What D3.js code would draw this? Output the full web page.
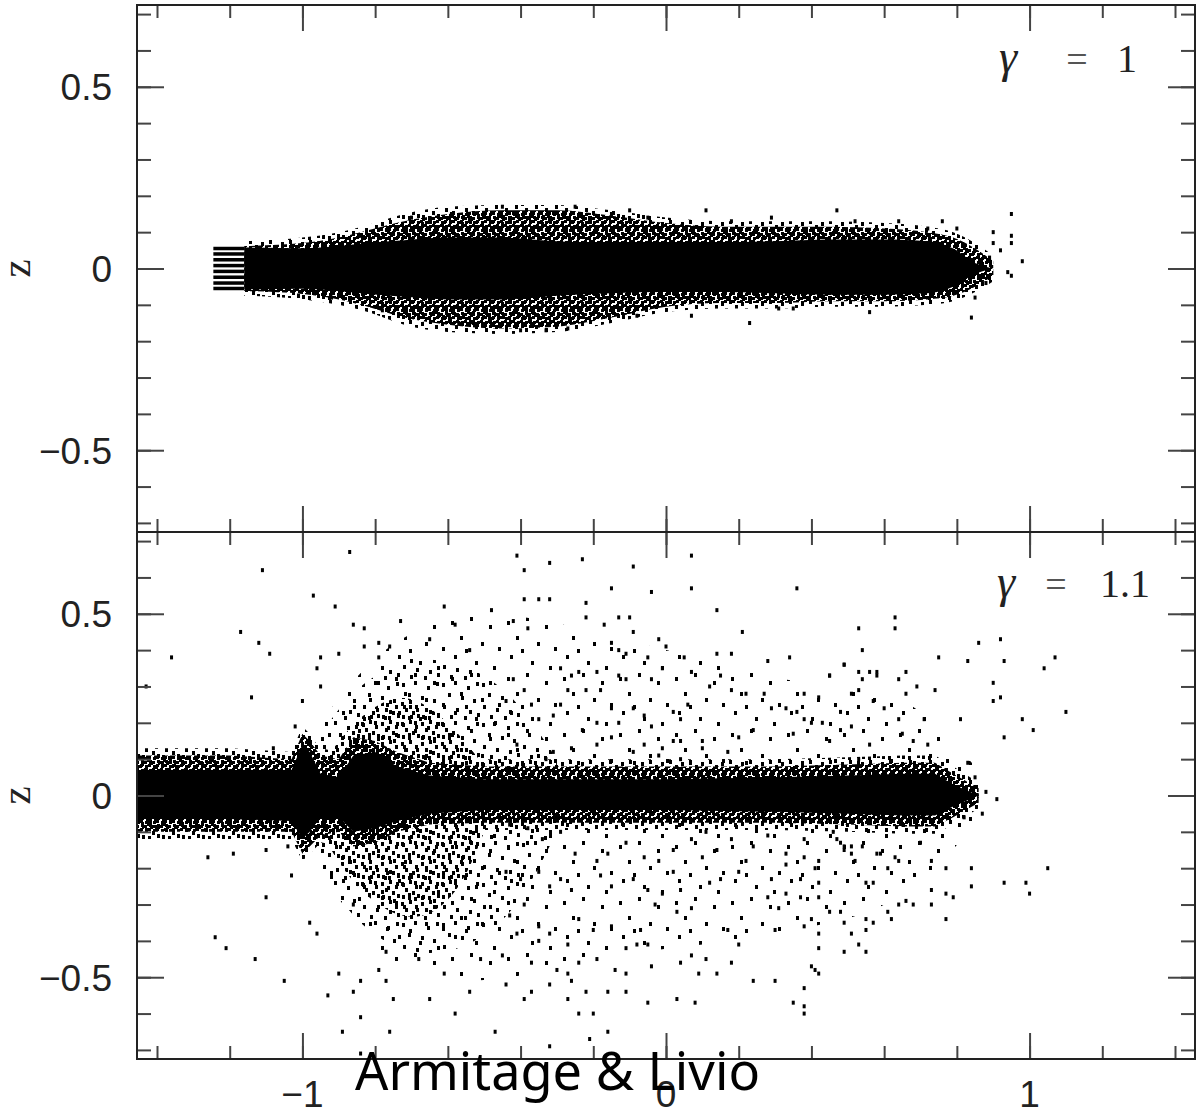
<!DOCTYPE html>
<html>
<head>
<meta charset="utf-8">
<script src="https://cdn.jsdelivr.net/npm/d3@7/dist/d3.min.js"></script>
<style>
  body { margin: 0; background: #fff; }
  .tick line { stroke: #444; stroke-width: 2; }
</style>
</head>
<body>
<svg id="chart" width="1197" height="1112"></svg>
<script>
// tick values
var xMinorTicks = [-1.4, -1.2, -1.0, -0.8, -0.6, -0.4, -0.2, 0, 0.2, 0.4, 0.6, 0.8, 1.0, 1.2, 1.4];
var xMajorTicks = [-1, 0, 1];
var xLabels = ["\u22121", "0", "1"];
var yMinorTicks = [-0.7, -0.6, -0.5, -0.4, -0.3, -0.2, -0.1, 0, 0.1, 0.2, 0.3, 0.4, 0.5, 0.6, 0.7];
var yMajorTicks = [-0.5, 0, 0.5];
var yLabels = ["\u22120.5", "0", "0.5"];

// gamma = 1 : thin disc, solid core + speckled edge (envelopes)
var topBandX    = [-1.16, -1.0, -0.9, -0.82, -0.72, -0.6, -0.45, -0.3, -0.15, 0, 0.15, 0.3, 0.45, 0.6, 0.72, 0.79, 0.85, 0.9];
var topFringeHi = [0.075, 0.085, 0.1, 0.12, 0.15, 0.17, 0.175, 0.175, 0.16, 0.14, 0.13, 0.13, 0.13, 0.125, 0.115, 0.1, 0.07, 0.035];
var topFringeLo = [-0.075, -0.085, -0.1, -0.12, -0.155, -0.175, -0.18, -0.175, -0.15, -0.12, -0.11, -0.11, -0.105, -0.105, -0.1, -0.09, -0.065, -0.035];
var topOuterHi  = [0.062, 0.07, 0.085, 0.105, 0.13, 0.15, 0.16, 0.16, 0.145, 0.125, 0.115, 0.115, 0.115, 0.11, 0.1, 0.085, 0.055, 0.02];
var topOuterLo  = [-0.062, -0.07, -0.085, -0.105, -0.135, -0.155, -0.165, -0.16, -0.135, -0.105, -0.095, -0.095, -0.09, -0.09, -0.085, -0.075, -0.05, -0.02];
var topCoreHi   = [0.058, 0.056, 0.062, 0.07, 0.078, 0.085, 0.085, 0.075, 0.07, 0.07, 0.072, 0.075, 0.08, 0.08, 0.075, 0.055, 0.015, 0];
var topCoreLo   = [-0.058, -0.056, -0.062, -0.07, -0.078, -0.085, -0.085, -0.075, -0.068, -0.065, -0.065, -0.068, -0.072, -0.072, -0.068, -0.05, -0.015, 0];
// the inner boundary rings at the left end
var stubX = [-1.245, -1.16];
var stubZ = [0.055, 0.04, 0.024, 0.008, -0.008, -0.024, -0.04, -0.055];
var topPoints = [
  [-0.70, 0.14], [-0.59, 0.15], [-0.45, 0.17], [-0.25, 0.17], [-0.15, 0.15], [-0.10, 0.16], [0.11, 0.16],
  [0.29, 0.14], [0.47, 0.16], [0.64, 0.13], [0.72, 0.11], [0.76, 0.13], [0.80, 0.11], [0.90, 0.10],
  [0.90, 0.07], [0.92, 0.05], [0.95, 0.15], [0.95, 0.09], [0.95, 0.07], [0.98, 0.02], [0.89, 0.03],
  [0.94, -0.01], [0.95, -0.02], [0.88, -0.04], [0.85, -0.08], [0.84, -0.135], [0.56, -0.12], [0.35, -0.11],
  [0.23, -0.15], [0.07, -0.13], [-0.08, -0.13], [-0.27, -0.165], [-0.33, -0.17], [-0.40, -0.17],
  [-0.53, -0.15], [-0.57, -0.15], [-0.84, 0.09], [-0.92, -0.08], [-0.78, -0.115], [0.52, 0.13],
  [0.31, -0.11], [-0.05, 0.14], [0.18, 0.13]
];

// gamma = 1.1 : disc with warped inner part and a wide halo
var botBandX    = [-1.455, -1.2, -1.03, -1.0, -0.98, -0.95, -0.9, -0.86, -0.8, -0.74, -0.65, -0.5, -0.3, 0, 0.3, 0.5, 0.65, 0.74, 0.79, 0.86];
var botFringeHi = [0.13, 0.13, 0.12, 0.19, 0.17, 0.13, 0.12, 0.18, 0.17, 0.14, 0.11, 0.1, 0.1, 0.1, 0.1, 0.105, 0.11, 0.11, 0.08, 0.035];
var botFringeLo = [-0.12, -0.12, -0.12, -0.18, -0.16, -0.13, -0.12, -0.16, -0.15, -0.12, -0.1, -0.095, -0.095, -0.095, -0.095, -0.1, -0.105, -0.105, -0.08, -0.035];
var botOuterHi  = [0.11, 0.11, 0.1, 0.17, 0.15, 0.11, 0.1, 0.16, 0.15, 0.12, 0.09, 0.08, 0.08, 0.08, 0.08, 0.085, 0.09, 0.09, 0.06, 0.02];
var botOuterLo  = [-0.1, -0.1, -0.1, -0.16, -0.14, -0.11, -0.1, -0.14, -0.13, -0.1, -0.08, -0.075, -0.075, -0.075, -0.075, -0.08, -0.085, -0.085, -0.06, -0.02];
var botCoreHi   = [0.07, 0.07, 0.07, 0.14, 0.12, 0.06, 0.05, 0.11, 0.12, 0.08, 0.055, 0.045, 0.045, 0.045, 0.05, 0.055, 0.06, 0.06, 0.03, 0];
var botCoreLo   = [-0.065, -0.065, -0.07, -0.12, -0.1, -0.06, -0.06, -0.1, -0.09, -0.07, -0.05, -0.04, -0.04, -0.04, -0.045, -0.05, -0.055, -0.055, -0.03, 0];
// thin halo, medium cloud and dense cluster of the scattered particles
var haloX  = [-0.95, -0.8, -0.6, -0.4, -0.2, 0, 0.2, 0.4, 0.55, 0.7, 0.85];
var haloHi = [0.2, 0.4, 0.5, 0.5, 0.45, 0.4, 0.35, 0.3, 0.3, 0.25, 0.08];
var haloLo = [-0.2, -0.45, -0.52, -0.5, -0.45, -0.42, -0.4, -0.36, -0.33, -0.25, -0.08];
var cloudX  = [-0.98, -0.93, -0.85, -0.75, -0.65, -0.55, -0.45, -0.38, -0.3];
var cloudHi = [0.12, 0.2, 0.3, 0.36, 0.38, 0.36, 0.3, 0.22, 0.1];
var cloudLo = [-0.12, -0.24, -0.35, -0.42, -0.44, -0.42, -0.35, -0.26, -0.1];
var clusterX  = [-0.95, -0.88, -0.8, -0.72, -0.64, -0.56, -0.5];
var clusterHi = [0.08, 0.18, 0.25, 0.28, 0.24, 0.16, 0.08];
var clusterLo = [-0.1, -0.22, -0.3, -0.34, -0.33, -0.25, -0.1];
var botPoints = [
  // far left / upper left
  [-0.87, 0.67], [-1.11, 0.62], [-0.97, 0.55], [-0.91, 0.52], [-1.17, 0.45], [-1.12, 0.42], [-1.09, 0.39],
  [-1.36, 0.38], [-0.86, 0.47], [-0.83, 0.46], [-0.95, 0.38], [-0.96, 0.35], [-0.90, 0.39], [-0.79, 0.42],
  [-0.76, 0.41], [-0.83, 0.41], [-0.79, 0.38], [-1.43, 0.30], [-1.14, 0.27], [-0.95, 0.30], [-1.00, 0.26],
  [-1.02, 0.19], [-1.08, 0.13], [-0.65, 0.43], [-0.58, 0.47], [-0.54, 0.40], [-0.48, 0.51], [-0.61, 0.52],
  [-0.70, 0.37], [-0.73, 0.48],
  // lower left
  [-1.26, -0.17], [-1.19, -0.16], [-1.10, -0.15], [-1.04, -0.14], [-1.03, -0.22], [-1.10, -0.28],
  [-1.24, -0.39], [-1.21, -0.42], [-1.13, -0.45], [-1.05, -0.51], [-0.98, -0.35], [-0.96, -0.38],
  [-0.93, -0.55], [-0.90, -0.49], [-0.86, -0.30], [-0.84, -0.61], [-0.89, -0.65], [-0.84, -0.71],
  [-0.86, -0.54], [-0.84, -0.51], [-0.79, -0.48], [-0.77, -0.51], [-0.77, -0.43], [-0.76, -0.65],
  [-0.75, -0.56], [-0.68, -0.45], [-0.61, -0.49], [-0.54, -0.54], [-0.51, -0.45], [-0.65, -0.56],
  [-0.58, -0.60], [-0.47, -0.65],
  // right, upper
  [0.63, 0.49], [0.63, 0.46], [0.53, 0.46], [0.92, 0.43], [0.86, 0.42], [0.75, 0.38], [0.83, 0.37],
  [0.93, 0.37], [1.07, 0.38], [1.04, 0.35], [0.54, 0.40], [0.49, 0.36], [0.45, 0.33], [0.53, 0.34],
  [0.54, 0.32], [0.56, 0.34], [0.58, 0.34], [0.64, 0.32], [0.66, 0.34], [0.69, 0.30], [0.74, 0.29],
  [0.90, 0.31], [0.92, 0.27], [0.90, 0.26], [1.10, 0.23], [0.98, 0.21], [1.01, 0.18], [0.93, 0.16],
  [0.81, 0.21], [0.71, 0.21], [0.64, 0.21], [0.66, 0.28], [0.60, 0.24], [0.57, 0.26], [0.51, 0.19],
  [0.48, 0.23], [0.65, 0.17], [0.68, 0.15], [0.72, 0.14], [0.56, 0.14], [0.53, 0.10], [0.83, 0.09],
  [0.85, 0.05], [0.88, 0.01], [0.91, -0.01], [0.82, -0.06], [0.87, -0.05],
  // right, lower
  [0.70, -0.13], [0.73, -0.18], [0.77, -0.20], [0.84, -0.20], [1.05, -0.20], [0.93, -0.24], [0.99, -0.24],
  [1.00, -0.27], [0.84, -0.25], [0.77, -0.27], [0.79, -0.28], [0.73, -0.26], [0.73, -0.30], [0.68, -0.30],
  [0.66, -0.29], [0.64, -0.30], [0.61, -0.32], [0.77, -0.34], [0.57, -0.24], [0.55, -0.24], [0.64, -0.18],
  [0.63, -0.17], [0.59, -0.16], [0.54, -0.14], [0.51, -0.14], [0.49, -0.14], [0.45, -0.07], [0.42, -0.24],
  [0.42, -0.28], [0.45, -0.32], [0.48, -0.32], [0.49, -0.35], [0.38, -0.36], [0.42, -0.38], [0.42, -0.42],
  [0.51, -0.38], [0.53, -0.41], [0.55, -0.37], [0.57, -0.35], [0.41, -0.48], [0.38, -0.60],
  [0.46, -0.10], [0.47, -0.12], [0.48, -0.13], [0.49, -0.15],
  // middle, upper
  [-0.41, 0.66], [-0.39, 0.62], [-0.32, 0.64], [-0.23, 0.65], [-0.09, 0.63], [0.07, 0.66], [0.07, 0.57],
  [-0.04, 0.56], [-0.15, 0.57], [0.36, 0.57], [0.14, 0.51], [0.21, 0.45], [-0.39, 0.54], [-0.35, 0.54],
  [-0.32, 0.54], [-0.22, 0.53], [-0.22, 0.49], [-0.42, 0.48], [-0.38, 0.46], [-0.10, 0.49], [-0.13, 0.49],
  [-0.17, 0.47], [-0.02, 0.43], [-0.09, 0.45], [0.00, 0.41], [-0.15, 0.42], [-0.13, 0.40], [-0.11, 0.39],
  [-0.05, 0.38], [0.05, 0.38], [0.14, 0.39], [0.18, 0.39], [0.28, 0.37], [0.34, 0.38], [0.49, 0.36],
  [0.45, 0.33], [0.58, 0.33], [0.07, 0.34], [0.15, 0.33], [-0.01, 0.35], [-0.04, 0.32], [-0.11, 0.32],
  [-0.13, 0.33], [-0.19, 0.34], [-0.24, 0.34], [-0.29, 0.35], [-0.26, 0.33], [0.12, 0.30], [0.18, 0.29],
  [0.22, 0.28], [0.27, 0.28], [0.38, 0.28], [0.42, 0.27], [0.51, 0.28], [0.53, 0.29], [0.29, 0.24],
  [0.33, 0.24], [0.36, 0.23], [0.38, 0.21], [0.40, 0.20], [0.43, 0.20], [0.48, 0.18], [0.35, 0.17],
  [0.45, 0.15], [0.24, 0.18], [0.20, 0.16], [0.17, 0.12], [0.10, 0.13], [0.04, 0.15], [0.02, 0.15],
  [-0.01, 0.13], [-0.02, 0.11], [-0.06, 0.14], [-0.09, 0.12], [-0.13, 0.20], [-0.19, 0.20], [-0.23, 0.18],
  [-0.15, 0.16], [-0.04, 0.19], [0.02, 0.23], [0.04, 0.21], [0.06, 0.25], [0.10, 0.15], [0.04, 0.10],
  [-0.06, 0.22], [-0.09, 0.24], [-0.19, 0.14], [-0.26, 0.13], [-0.31, 0.12], [-0.33, 0.10], [-0.41, 0.14],
  [-0.44, 0.26], [-0.42, 0.32], [-0.39, 0.29], [-0.37, 0.25], [-0.35, 0.21], [-0.31, 0.22], [-0.29, 0.25],
  [-0.27, 0.29], [-0.22, 0.29], [-0.18, 0.29], [-0.15, 0.24],
  // middle, lower
  [-0.43, -0.08], [-0.38, -0.09], [-0.34, -0.12], [-0.29, -0.10], [-0.25, -0.16], [-0.19, -0.18],
  [-0.16, -0.16], [-0.11, -0.13], [-0.06, -0.17], [-0.02, -0.18], [0.02, -0.15], [0.07, -0.12],
  [0.11, -0.10], [0.14, -0.15], [0.18, -0.12], [0.22, -0.18], [0.24, -0.14], [0.28, -0.11], [0.33, -0.16],
  [0.38, -0.12], [0.42, -0.18], [-0.44, -0.21], [-0.40, -0.23], [-0.35, -0.21], [-0.32, -0.25],
  [-0.29, -0.23], [-0.26, -0.26], [-0.18, -0.22], [-0.15, -0.25], [-0.09, -0.23], [-0.05, -0.26],
  [-0.03, -0.30], [0.02, -0.21], [0.04, -0.26], [0.07, -0.31], [0.10, -0.17], [0.12, -0.24], [0.15, -0.23],
  [0.20, -0.21], [0.29, -0.23], [0.31, -0.31], [0.33, -0.19], [0.37, -0.23], [0.38, -0.17], [0.41, -0.20],
  [0.51, -0.16], [0.52, -0.18], [0.58, -0.16], [0.61, -0.20],
  [-0.43, -0.33], [-0.39, -0.30], [-0.35, -0.36], [-0.32, -0.38], [-0.27, -0.41], [-0.24, -0.34],
  [-0.20, -0.37], [-0.15, -0.36], [-0.11, -0.42], [-0.07, -0.37], [-0.04, -0.47], [-0.01, -0.27],
  [0.03, -0.32], [0.07, -0.44], [0.11, -0.45], [0.17, -0.37], [0.20, -0.41], [0.24, -0.51], [0.28, -0.28],
  [0.30, -0.37], [0.33, -0.27], [0.37, -0.28], [0.40, -0.34], [0.55, -0.34], [0.62, -0.34],
  [-0.45, -0.44], [-0.41, -0.38], [-0.37, -0.46], [-0.35, -0.40], [-0.30, -0.48], [-0.27, -0.49],
  [-0.24, -0.46], [-0.19, -0.45], [-0.14, -0.48], [-0.11, -0.49], [-0.08, -0.41], [-0.05, -0.41],
  [0.04, -0.46], [0.09, -0.49], [0.14, -0.49], [0.18, -0.46], [0.30, -0.51], [0.38, -0.53], [0.42, -0.49],
  [0.49, -0.43], [0.55, -0.43], [-0.44, -0.52], [-0.37, -0.54], [-0.32, -0.52], [-0.27, -0.56],
  [-0.26, -0.51], [-0.22, -0.54], [-0.16, -0.54], [-0.11, -0.54], [-0.05, -0.57], [0.03, -0.56],
  [0.08, -0.57], [0.40, -0.47], [0.35, -0.57], [0.38, -0.58], [-0.39, -0.56], [-0.24, -0.60],
  [-0.20, -0.60], [-0.16, -0.65], [-0.32, -0.69], [-0.21, -0.67]
];

var svg = d3.select("#chart");
var x = d3.scaleLinear().domain([-1.455, 1.455]).range([137, 1195]);
var yTop = d3.scaleLinear().domain([-0.725, 0.725]).range([532, 5]);
var yBot = d3.scaleLinear().domain([-0.725, 0.725]).range([1059, 532]);

// speckle textures for the dense particle regions
var defs = svg.append("defs");
function texture(id, size, w, h, spots) {
  var p = defs.append("pattern").attr("id", id).attr("patternUnits", "userSpaceOnUse")
    .attr("width", size).attr("height", size);
  p.selectAll("rect").data(spots).enter().append("rect")
    .attr("x", d => d[0]).attr("y", d => d[1]).attr("width", w).attr("height", h)
    .attr("fill", "#000");
}
texture("speck", 16, 3, 3, [[0, 0], [5, 1], [8, 0], [13, 1], [1, 5], [4, 4], [9, 5], [12, 4],
  [0, 9], [5, 8], [8, 9], [13, 8], [1, 13], [4, 12], [9, 13], [12, 12],
  [2, 2], [10, 2], [6, 10], [14, 10], [3, 7], [11, 14]]);
texture("cluster", 20, 3, 4, [[1, 2], [9, 0], [15, 5], [5, 8], [12, 11], [17, 14], [2, 15], [8, 16]]);
texture("cloud", 40, 3, 4, [[2, 3], [14, 1], [27, 6], [36, 2], [8, 13], [21, 16], [33, 19], [3, 25],
  [16, 28], [29, 30], [10, 35], [24, 36], [37, 33]]);
texture("halo", 56, 3, 4, [[3, 5], [22, 1], [41, 9], [12, 20], [33, 26], [50, 31], [6, 39], [27, 45],
  [45, 50], [17, 33]]);

function clip(id, y) {
  defs.append("clipPath").attr("id", id).append("rect")
    .attr("x", x.range()[0]).attr("y", y.range()[1])
    .attr("width", x.range()[1] - x.range()[0]).attr("height", y.range()[0] - y.range()[1]);
}
clip("clipTop", yTop);
clip("clipBot", yBot);

function band(g, y, xs, hi, lo, fill, curve) {
  var area = d3.area()
    .x((d, i) => x(xs[i]))
    .y0((d, i) => y(lo[i]))
    .y1((d, i) => y(hi[i]))
    .curve(curve || d3.curveMonotoneX);
  g.append("path").datum(xs).attr("d", area).attr("fill", fill);
}

function dots(g, y, pts) {
  g.selectAll("rect.pt").data(pts).enter().append("rect").attr("class", "pt")
    .attr("x", d => x(d[0]) - 1.5).attr("y", d => y(d[1]) - 2)
    .attr("width", 3).attr("height", 4).attr("fill", "#000");
}

// top panel marks
var gTop = svg.append("g").attr("clip-path", "url(#clipTop)");
band(gTop, yTop, topBandX, topFringeHi, topFringeLo, "url(#cluster)");
band(gTop, yTop, topBandX, topOuterHi, topOuterLo, "url(#speck)");
band(gTop, yTop, topBandX, topCoreHi, topCoreLo, "#000");
gTop.selectAll("line.stub").data(stubZ).enter().append("line")
  .attr("x1", x(stubX[0])).attr("x2", x(stubX[1]))
  .attr("y1", d => yTop(d)).attr("y2", d => yTop(d))
  .attr("stroke", "#000").attr("stroke-width", 3.5);
dots(gTop, yTop, topPoints);

// bottom panel marks
var gBot = svg.append("g").attr("clip-path", "url(#clipBot)");
band(gBot, yBot, haloX, haloHi, haloLo, "url(#halo)", d3.curveBasis);
band(gBot, yBot, cloudX, cloudHi, cloudLo, "url(#cloud)", d3.curveBasis);
band(gBot, yBot, clusterX, clusterHi, clusterLo, "url(#cluster)", d3.curveBasis);
band(gBot, yBot, botBandX, botFringeHi, botFringeLo, "url(#cluster)", d3.curveLinear);
band(gBot, yBot, botBandX, botOuterHi, botOuterLo, "url(#speck)", d3.curveLinear);
band(gBot, yBot, botBandX, botCoreHi, botCoreLo, "#000", d3.curveLinear);
dots(gBot, yBot, botPoints);

// frames and ticks on all four sides
function frame(y, labelsBelow) {
  var x0 = x.range()[0], x1 = x.range()[1], yT = y.range()[1], yB = y.range()[0];
  function put(axis, tx, ty) {
    svg.append("g").attr("transform", "translate(" + tx + "," + ty + ")")
      .call(axis.tickFormat(""))
      .call(g => g.select(".domain").remove());
  }
  put(d3.axisLeft(y).tickValues(yMinorTicks).tickSize(-14), x0, 0);
  put(d3.axisLeft(y).tickValues(yMajorTicks).tickSize(-27), x0, 0);
  put(d3.axisRight(y).tickValues(yMinorTicks).tickSize(-14), x1, 0);
  put(d3.axisRight(y).tickValues(yMajorTicks).tickSize(-27), x1, 0);
  put(d3.axisTop(x).tickValues(xMinorTicks).tickSize(-13), 0, yT);
  put(d3.axisTop(x).tickValues(xMajorTicks).tickSize(-26), 0, yT);
  put(d3.axisBottom(x).tickValues(xMinorTicks).tickSize(-13), 0, yB);
  put(d3.axisBottom(x).tickValues(xMajorTicks).tickSize(-26), 0, yB);
  svg.append("rect").attr("x", x0).attr("y", yT).attr("width", x1 - x0).attr("height", yB - yT)
    .attr("fill", "none").attr("stroke", "#222").attr("stroke-width", 2);

  svg.append("g").selectAll("text").data(yMajorTicks).enter().append("text")
    .attr("x", 112).attr("y", d => y(d)).attr("dy", "0.36em")
    .attr("text-anchor", "end").attr("font-family", "Liberation Sans, Arial, sans-serif")
    .attr("font-size", 37).attr("fill", "#222")
    .text((d, i) => yLabels[i]);
  svg.append("text").attr("transform", "translate(30," + y(0) + ") rotate(-90)")
    .attr("text-anchor", "middle").attr("font-family", "Liberation Serif, serif")
    .attr("font-size", 41).attr("fill", "#222").text("z");

  if (labelsBelow) {
    svg.append("g").selectAll("text").data(xMajorTicks).enter().append("text")
      .attr("x", d => x(d)).attr("y", 1107).attr("text-anchor", "middle")
      .attr("font-family", "Liberation Sans, Arial, sans-serif")
      .attr("font-size", 37).attr("fill", "#222")
      .text((d, i) => xLabels[i]);
  }
}
frame(yTop, false);
frame(yBot, true);

// gamma labels
function gammaLabel(gx, ex, vx, by, value) {
  var f = "Liberation Serif, serif";
  svg.append("text").attr("x", gx).attr("y", by).attr("text-anchor", "middle")
    .attr("font-family", f).attr("font-style", "italic").attr("font-size", 46).attr("fill", "#222").text("\u03b3");
  svg.append("text").attr("x", ex).attr("y", by).attr("text-anchor", "middle")
    .attr("font-family", f).attr("font-size", 38).attr("fill", "#555").text("=");
  svg.append("text").attr("x", vx).attr("y", by).attr("text-anchor", "middle")
    .attr("font-family", f).attr("font-size", 40).attr("fill", "#222").text(value);
}
gammaLabel(1008, 1077, 1127, 72, "1");
gammaLabel(1006, 1056, 1125, 597, "1.1");

svg.append("text").attr("x", 355).attr("y", 1090)
  .attr("font-family", "Comic Sans MS, Noto Sans, sans-serif").attr("font-size", 52)
  .attr("textLength", 405).attr("lengthAdjust", "spacingAndGlyphs")
  .attr("fill", "#000").text("Armitage & Livio");
</script>
</body>
</html>
